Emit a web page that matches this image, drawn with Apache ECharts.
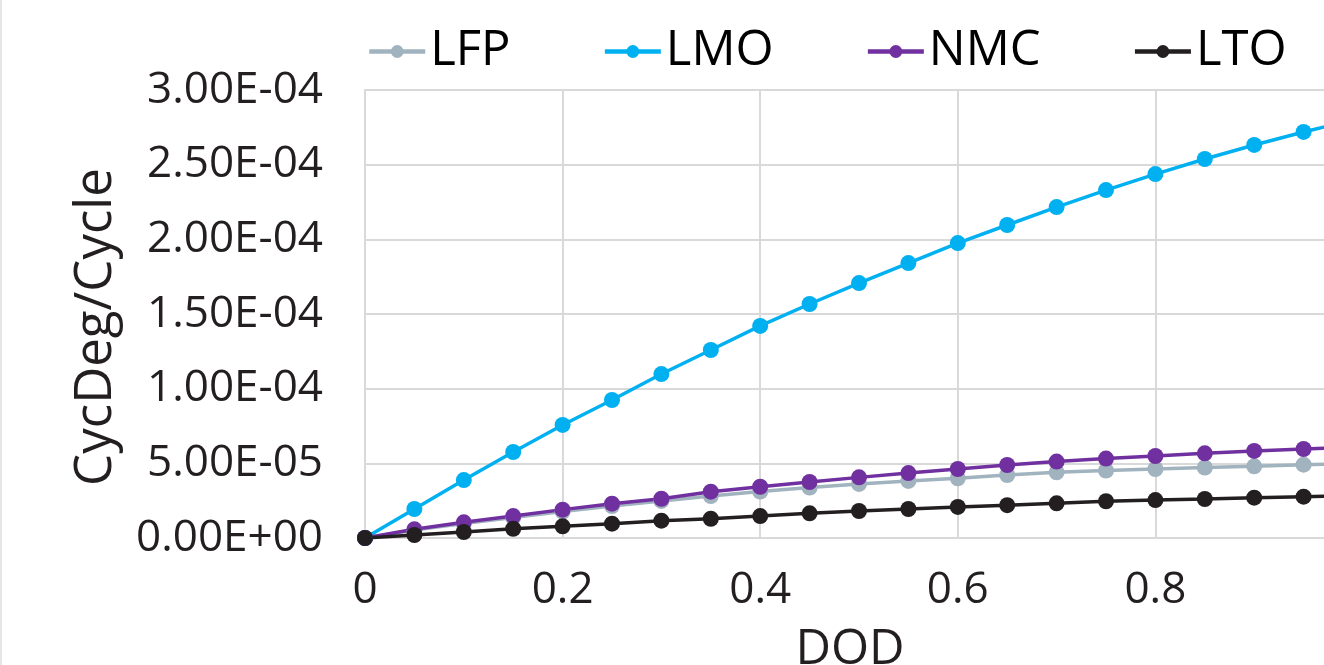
<!DOCTYPE html>
<html>
<head>
<meta charset="utf-8">
<script src="https://cdn.jsdelivr.net/npm/echarts@6/dist/echarts.min.js"></script>
<style>
html,body{margin:0;padding:0;background:#fff;}
#chart{width:1324px;height:665px;}
</style>
</head>
<body>
<div id="chart"></div>
<script>
const dod = [0, 0.05, 0.1, 0.15, 0.2, 0.25, 0.3, 0.35, 0.4, 0.45, 0.5, 0.55, 0.6, 0.65, 0.7, 0.75, 0.8, 0.85, 0.9, 0.95, 1.0];
const lfp = [0, 5.4e-6, 9.7e-6, 1.37e-5, 1.77e-5, 2.14e-5, 2.48e-5, 2.81e-5, 3.11e-5, 3.38e-5, 3.62e-5, 3.82e-5, 4.0e-5, 4.22e-5, 4.4e-5, 4.52e-5, 4.62e-5, 4.72e-5, 4.8e-5, 4.91e-5, 4.98e-5];
const lmo = [0, 1.94e-5, 3.88e-5, 5.76e-5, 7.57e-5, 9.24e-5, 1.098e-4, 1.259e-4, 1.42e-4, 1.567e-4, 1.707e-4, 1.841e-4, 1.975e-4, 2.096e-4, 2.216e-4, 2.33e-4, 2.437e-4, 2.538e-4, 2.632e-4, 2.719e-4, 2.8e-4];
const nmc = [0, 5.8e-6, 1.05e-5, 1.47e-5, 1.9e-5, 2.3e-5, 2.63e-5, 3.1e-5, 3.43e-5, 3.75e-5, 4.06e-5, 4.35e-5, 4.62e-5, 4.89e-5, 5.12e-5, 5.32e-5, 5.49e-5, 5.67e-5, 5.83e-5, 5.96e-5, 6.08e-5];
const lto = [0, 2.0e-6, 4.0e-6, 6.2e-6, 7.8e-6, 9.6e-6, 1.16e-5, 1.29e-5, 1.47e-5, 1.65e-5, 1.81e-5, 1.94e-5, 2.08e-5, 2.2e-5, 2.32e-5, 2.46e-5, 2.54e-5, 2.61e-5, 2.7e-5, 2.77e-5, 2.83e-5];
const seriesNames = ['LFP', 'LMO', 'NMC', 'LTO'];
const yTickLabels = ['0.00E+00', '5.00E-05', '1.00E-04', '1.50E-04', '2.00E-04', '2.50E-04', '3.00E-04'];
const xTickLabels = ['0', '0.2', '0.4', '0.6', '0.8', '1'];

const colors = ['#A0B3BF', '#00B0F0', '#7030A0', '#231F20'];
const values = [lfp, lmo, nmc, lto];
const FONT = 'Open Sans';

const chart = echarts.init(document.getElementById('chart'));
chart.setOption({
  animation: false,
  color: colors,
  textStyle: {fontFamily: FONT},
  legend: {
    top: 27,
    left: 367,
    padding: 0,
    itemGap: 92,
    itemWidth: 56,
    itemHeight: 16,
    lineStyle: {width: 4.5},
    textStyle: {fontSize: 49, color: '#000', fontFamily: FONT},
    data: seriesNames
  },
  grid: {left: 365, width: 988, top: 90, height: 448, containLabel: false, outerBoundsMode: 'none'},
  xAxis: {
    type: 'value', min: 0, max: 1, interval: 0.2,
    name: 'DOD', nameLocation: 'middle', nameGap: 88,
    nameTextStyle: {fontSize: 49, color: '#231F20', fontFamily: FONT, padding: [0, 18, 0, 0]},
    axisLine: {show: true, lineStyle: {color: '#D9D9D9', width: 2}},
    axisTick: {show: false},
    splitLine: {show: true, lineStyle: {color: '#D9D9D9', width: 2}},
    axisLabel: {fontSize: 44, color: '#231F20', margin: 30,
      formatter: (v) => xTickLabels[Math.round(v / 0.2)]}
  },
  yAxis: {
    type: 'value', min: 0, max: 3e-4, interval: 5e-5,
    name: 'CycDeg/Cycle', nameLocation: 'middle', nameGap: 243,
    nameTextStyle: {fontSize: 51, color: '#231F20', fontFamily: FONT, padding: [0, 26, 0, 0]},
    axisLine: {show: true, lineStyle: {color: '#D9D9D9', width: 2}},
    axisTick: {show: false},
    splitLine: {show: true, lineStyle: {color: '#D9D9D9', width: 2}},
    axisLabel: {fontSize: 44, color: '#231F20', margin: 42,
      formatter: (v) => yTickLabels[Math.round(v / 5e-5)]}
  },
  graphic: [{type: 'line', shape: {x1: 1, y1: 0, x2: 1, y2: 665}, style: {stroke: '#E6E6E6', lineWidth: 2}}],
  series: seriesNames.map((n, i) => ({
    name: n, type: 'line',
    data: dod.map((x, j) => [x, values[i][j]]),
    symbol: 'circle', symbolSize: 16,
    lineStyle: {width: 3.5, color: colors[i]},
    itemStyle: {color: colors[i]},
    clip: false
  }))
});
</script>
</body>
</html>
